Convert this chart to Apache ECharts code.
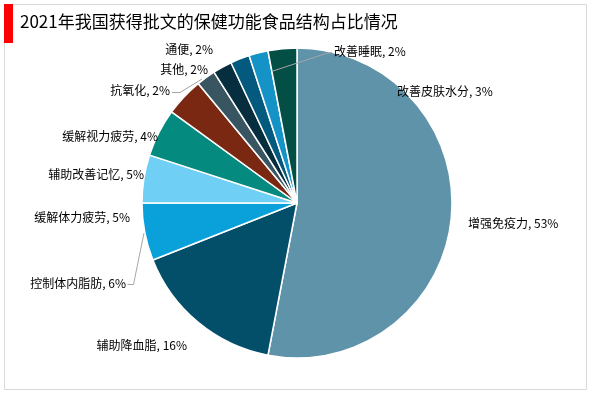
<!DOCTYPE html>
<html>
<head>
<meta charset="utf-8">
<script src="https://cdn.jsdelivr.net/npm/echarts@6/dist/echarts.min.js"></script>
<style>
html,body{margin:0;padding:0;background:#fff;}
#chart{width:600px;height:393px;}
</style>
</head>
<body>
<div id="chart"></div>
<script>
// ---- data ----
var titleText = '2021年我国获得批文的保健功能食品结构占比情况';
var categories = ['增强免疫力','辅助降血脂','控制体内脂肪','缓解体力疲劳','辅助改善记忆','缓解视力疲劳','抗氧化','其他','通便','改善睡眠','改善皮肤水分'];
var values = [53,16,6,5,5,4,2,2,2,2,3];

// ---- style / layout (not data) ----
var colors = ['#5e93aa','#034f6a','#0aa1db','#6fcff5','#058a7f','#7b2812','#395562','#062e3e','#045a7e','#1592c6','#034f46'];
// label anchor [x, y, align]
var labelPos = [
  [468,223,'left'],
  [187,345,'right'],
  [126,283,'right'],
  [130,217,'right'],
  [144,174,'right'],
  [158,136,'right'],
  [170,90,'right'],
  [208,69,'right'],
  [213,49,'right'],
  [334,51,'left'],
  [397,91,'left']
];
// leader lines (decoration, like the reference's label guide lines)
var guideLines = [
  [[127.5,284.5],[133.5,284.5],[144,233]],
  [[172,92.5],[180,92.5],[202,79]],
  [[332,52.5],[326,53.5],[273,71]]
];

var chart = echarts.init(document.getElementById('chart'), null, {renderer:'canvas'});
var font = '"Noto Sans CJK SC", "Microsoft YaHei", sans-serif';
var data = categories.map(function(n,i){
  return { name:n, value:values[i], itemStyle:{color:colors[i]} };
});
var graphics = [
  {type:'rect', shape:{x:4.5,y:4.5,width:582,height:385}, style:{fill:'none',stroke:'#d9d9d9',lineWidth:1}, z:0},
  {type:'rect', shape:{x:4,y:4,width:9,height:39}, style:{fill:'#ff0000'}, z:1}
];
guideLines.forEach(function(pts){
  graphics.push({type:'polyline', shape:{points:pts}, style:{fill:'none', stroke:'#a6a6a6', lineWidth:1}, z:100});
});
chart.setOption({
  animation:false,
  graphic:graphics,
  title:{
    text:titleText, left:20, top:13, padding:0,
    textStyle:{fontFamily:font, fontSize:17, fontWeight:'normal', color:'#000'}
  },
  series:[{
    type:'pie',
    center:[297,203],
    radius:155,
    startAngle:90,
    clockwise:true,
    data:data,
    itemStyle:{borderColor:'#fff', borderWidth:1.5},
    label:{
      show:true, position:'outside',
      formatter:'{b}, {c}%',
      overflow:'none',
      fontFamily:font, fontSize:12, color:'#000'
    },
    labelLine:{show:true, length:8, length2:8, lineStyle:{opacity:0}},
    labelLayout:function(p){
      var lp = labelPos[p.dataIndex];
      return {x:lp[0], y:lp[1], align:lp[2], verticalAlign:'middle'};
    }
  }]
});
</script>
</body>
</html>
